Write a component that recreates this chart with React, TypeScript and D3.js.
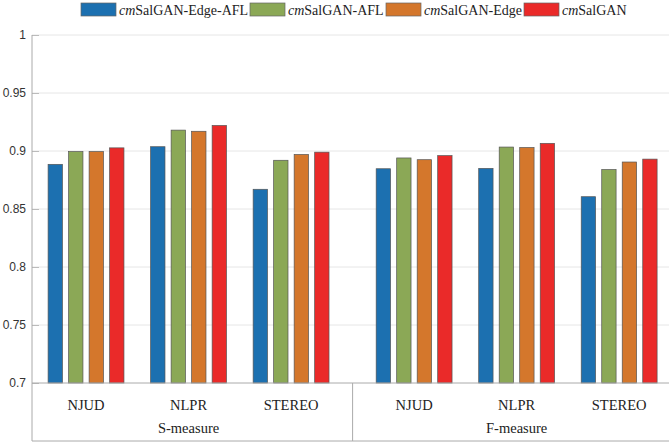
import React, { useEffect, useRef } from 'react';
import * as d3 from 'd3';

const measures = ['S-measure', 'F-measure'];
const datasets = ['NJUD', 'NLPR', 'STEREO'];
const groupPos = [1, 2, 3, 4.2, 5.2, 6.2];
const seriesNames = ['SalGAN-Edge-AFL', 'SalGAN-AFL', 'SalGAN-Edge', 'SalGAN'];
const seriesColors = ['#1c70b0', '#8ba856', '#d4772c', '#ea2a29'];

// one array per series, 6 groups: S(NJUD,NLPR,STEREO), F(NJUD,NLPR,STEREO)
const edgeAfl = [0.8885, 0.9037, 0.867, 0.8847, 0.885, 0.8606];
const afl = [0.8995, 0.918, 0.892, 0.894, 0.9034, 0.884];
const edge = [0.8995, 0.917, 0.897, 0.8925, 0.903, 0.8905];
const full = [0.9027, 0.922, 0.899, 0.896, 0.9066, 0.893];
const yTicks = [0.7, 0.75, 0.8, 0.85, 0.9, 0.95, 1];

const W = 669;
const H = 445;
const margin = { left: 32, top: 35, right: 0, bottom: 62 };
const bottomLine = 441;

function draw(node: SVGSVGElement) {
  const svg = d3.select(node);
  svg.selectAll('*').remove();

  const x = d3.scaleLinear().domain([0.473, 6.73]).range([margin.left, 673.5]);
  const y = d3.scaleLinear().domain([0.7, 1]).range([H - margin.bottom, margin.top]);
  const inner = d3.scaleBand().domain(d3.range(4).map(String)).range([-0.4, 0.4]).paddingInner(0.3).paddingOuter(0.15);
  const series = [edgeAfl, afl, edge, full];

  // grid
  svg.append('g').selectAll('line').data(yTicks.slice(1)).enter().append('line')
    .attr('x1', margin.left).attr('x2', W)
    .attr('y1', d => y(d)).attr('y2', d => y(d))
    .attr('stroke', '#e6e6e6').attr('stroke-width', 1);

  // bars
  series.forEach((vals, si) => {
    svg.append('g').selectAll('rect').data(vals).enter().append('rect')
      .attr('x', (d, i) => x(groupPos[i] + inner(String(si))!))
      .attr('width', x(inner.bandwidth()) - x(0))
      .attr('y', d => y(d))
      .attr('height', d => y(0.7) - y(d))
      .attr('fill', seriesColors[si])
      .attr('stroke', '#555').attr('stroke-width', 0.7);
  });

  // y axis
  const yAxis = svg.append('g').attr('transform', `translate(${margin.left},0)`)
    .call(d3.axisLeft(y).tickValues(yTicks).tickSize(-7).tickPadding(6).tickFormat(d => String(+d)));
  yAxis.select('.domain').remove();
  yAxis.selectAll('line').attr('stroke', '#bbb');
  yAxis.selectAll('text').attr('fill', '#333').style('font-family', 'Liberation Sans, Arial, sans-serif').style('font-size', '12px');

  const axisCol = '#aaa';
  svg.append('line').attr('x1', margin.left).attr('x2', margin.left).attr('y1', margin.top).attr('y2', bottomLine).attr('stroke', axisCol);
  svg.append('line').attr('x1', margin.left).attr('x2', W).attr('y1', y(0.7)).attr('y2', y(0.7)).attr('stroke', axisCol);
  svg.append('line').attr('x1', margin.left).attr('x2', W).attr('y1', bottomLine).attr('y2', bottomLine).attr('stroke', axisCol);
  svg.append('line').attr('x1', x(3.6)).attr('x2', x(3.6)).attr('y1', y(0.7)).attr('y2', bottomLine).attr('stroke', axisCol);

  const serif = 'Liberation Serif, Times New Roman, serif';
  svg.append('g').selectAll('text').data(groupPos).enter().append('text')
    .attr('x', d => x(d)).attr('y', 410)
    .attr('text-anchor', 'middle').style('font-family', serif).style('font-size', '14.5px').attr('fill', '#222')
    .text((d, i) => datasets[i % 3]);
  svg.append('g').selectAll('text').data(measures).enter().append('text')
    .attr('x', (d, i) => x(i === 0 ? 2 : 5.2)).attr('y', 433)
    .attr('text-anchor', 'middle').style('font-family', serif).style('font-size', '14.5px').attr('fill', '#222')
    .text(d => d);

  // legend
  const legendX = [81, 250, 386, 524];
  const lg = svg.append('g');
  seriesNames.forEach((name, i) => {
    lg.append('rect').attr('x', legendX[i]).attr('y', 3).attr('width', 35).attr('height', 13)
      .attr('fill', seriesColors[i]).attr('stroke', '#666').attr('stroke-width', 0.7);
    const t = lg.append('text').attr('x', legendX[i] + 38).attr('y', 15)
      .style('font-family', serif).style('font-size', '14px').attr('fill', '#222');
    t.append('tspan').style('font-style', 'italic').style('font-family', serif).text('cm');
    t.append('tspan').text(name);
  });
}

export default function App() {
  const ref = useRef<SVGSVGElement>(null);
  useEffect(() => {
    if (ref.current) draw(ref.current);
  }, []);
  return (
    <svg ref={ref} width={W} height={H} style={{ position: 'absolute', left: 0, top: 0, background: '#fff' }} />
  );
}
